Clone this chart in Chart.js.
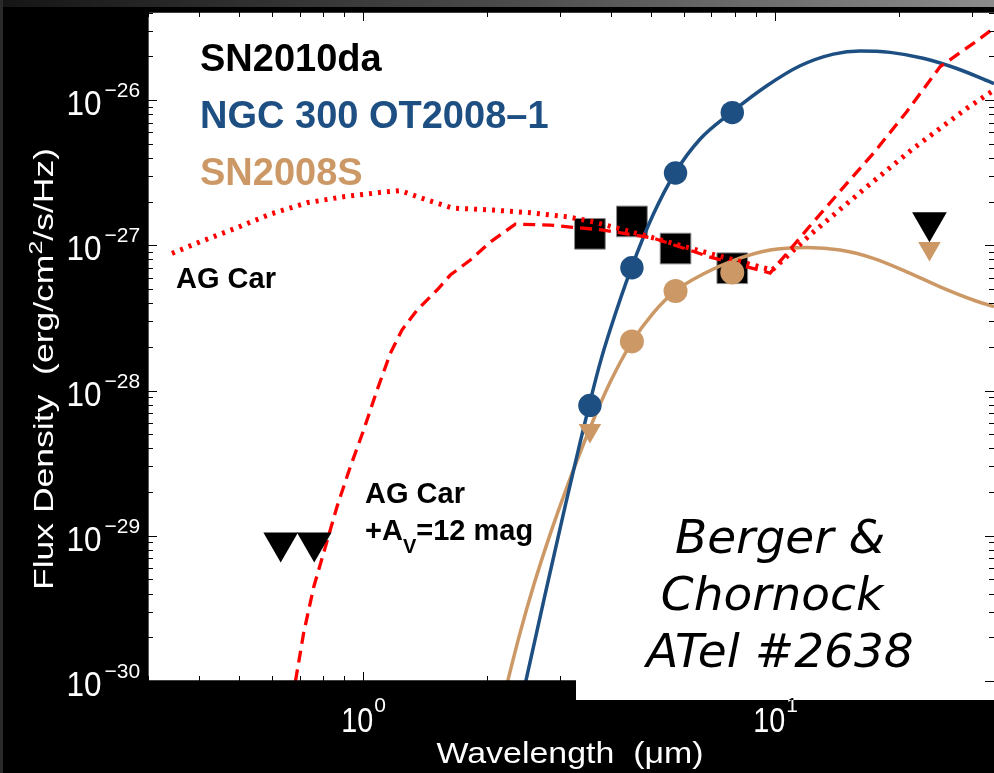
<!DOCTYPE html>
<html>
<head>
<meta charset="utf-8">
<script src="https://cdn.jsdelivr.net/npm/chart.js@4.4.0/dist/chart.umd.min.js"></script>
<style>
  html, body { margin: 0; padding: 0; background: #000; overflow: hidden; }
  canvas { display: block; }
</style>
</head>
<body>
<canvas id="miGrafico" width="994" height="773"></canvas>
<script>
// DATOS (longitud de onda en micras, flujo en erg/cm2/s/Hz)

// SN2010da: IRAC (cuadrados) y limites superiores (triangulos)
const sn2010daLambda = [3.55, 4.49, 5.73, 7.87];
const sn2010daFlujo = [1.20e-27, 1.46e-27, 9.5e-28, 6.95e-28];
const sn2010daLimLambda = [0.63, 0.76, 23.7];
const sn2010daLimFlujo = [9.0e-30, 9.0e-30, 1.44e-27];

// NGC 300 OT2008-1
const ngc300Lambda = [3.55, 4.49, 5.73, 7.87];
const ngc300Flujo = [7.9e-29, 7.0e-28, 3.15e-27, 8.2e-27];
const ngc300AjusteLambda = [2.424, 2.473, 2.766, 3.093, 3.363, 3.536, 3.760, 3.977, 4.473, 5.057,
  5.718, 6.577, 7.852, 9.548, 11.50, 13.85, 16.08, 19.02, 22.87, 27.61, 34.0];
const ngc300AjusteFlujo = [7.4e-31, 9.58e-31, 3.99e-30, 1.61e-29, 4.43e-29, 7.94e-29, 1.557e-28,
  2.63e-28, 6.93e-28, 1.628e-27, 3.16e-27, 5.39e-27, 8.27e-27, 1.254e-26, 1.722e-26, 2.073e-26,
  2.18e-26, 2.13e-26, 1.94e-26, 1.65e-26, 1.30e-26];

// SN2008S
const sn2008sLambda = [4.49, 5.73, 7.87];
const sn2008sFlujo = [2.18e-28, 4.84e-28, 6.5e-28];
const sn2008sLimLambda = [3.55, 23.7];
const sn2008sLimFlujo = [5.3e-29, 9.5e-28];
const sn2008sAjusteLambda = [2.184, 2.240, 2.405, 2.591, 2.844, 3.122, 3.536, 3.977, 4.473, 5.057,
  5.718, 6.687, 7.852, 9.725, 11.94, 14.38, 17.32, 20.87, 25.15, 30.29, 34.0];
const sn2008sAjusteFlujo = [7.4e-31, 9.89e-31, 2.17e-30, 4.54e-30, 1.031e-29, 2.166e-29, 5.35e-29,
  1.144e-28, 2.123e-28, 3.417e-28, 4.84e-28, 6.34e-28, 7.79e-28, 9.27e-28, 9.65e-28, 9.27e-28,
  8.13e-28, 6.57e-28, 5.18e-28, 4.20e-28, 3.78e-28];

// AG Car (punteado) y AG Car + Av=12 mag (discontinuo)
const agCarLambda = [0.343, 0.402, 0.484, 0.595, 0.730, 0.894, 1.118, 1.230, 1.430, 1.644, 2.068,
  2.543, 3.127, 3.617, 4.781, 6.687, 9.83, 12.28, 16.70, 21.66, 29.20, 34.0];
const agCarFlujo = [8.80e-28, 1.058e-27, 1.294e-27, 1.641e-27, 1.963e-27, 2.159e-27, 2.326e-27,
  2.375e-27, 2.049e-27, 1.805e-27, 1.748e-27, 1.675e-27, 1.572e-27, 1.452e-27, 1.177e-27,
  9.03e-28, 6.75e-28, 1.209e-27, 2.53e-27, 4.65e-27, 8.77e-27, 1.172e-26];
const agCarExtLambda = [0.673, 0.684, 0.716, 0.758, 0.809, 0.863, 0.930, 1.002, 1.080, 1.163,
  1.241, 1.350, 1.510, 1.626, 1.819, 2.034, 2.339, 2.844, 3.181, 3.824, 5.057, 6.953, 9.725,
  12.03, 14.38, 17.32, 20.87, 25.15, 30.29, 34.0];
const agCarExtFlujo = [7.4e-31, 9.9e-31, 2.13e-30, 4.46e-30, 8.41e-30, 1.585e-29, 2.99e-29,
  5.35e-29, 1.008e-28, 1.80e-28, 2.61e-28, 3.58e-28, 4.92e-28, 6.24e-28, 7.92e-28, 1.053e-27,
  1.400e-27, 1.378e-27, 1.336e-27, 1.274e-27, 1.122e-27, 8.30e-28, 6.44e-28, 1.315e-27,
  2.36e-27, 4.30e-27, 8.31e-27, 1.696e-26, 2.457e-26, 3.13e-26];

// EJES
const ticksX = [1, 10];
const etiquetasX = ['0', '1'];
const ticksY = [1e-30, 1e-29, 1e-28, 1e-27, 1e-26];
const etiquetasY = ['\u221230', '\u221229', '\u221228', '\u221227', '\u221226'];

const AZUL = '#1d4f82';
const MARRON = '#cc9966';
const ROJO = '#ff0000';

const CAJA = { x: 576, y: 490, w: 418, h: 210 }; // caja blanca de la anotacion

const puntos = (xs, ys) => xs.map((x, i) => ({ x: x, y: ys[i] }));

// texto en varias partes (superindices), ajustado a un ancho
function textoPartes(c, partes, x, y, ancho, rot, color, align) {
  c.save();
  c.translate(x, y);
  if (rot) c.rotate(rot);
  let total = 0;
  partes.forEach(p => { c.font = p.f; p.w = c.measureText(p.t).width; total += p.w; });
  const k = ancho ? ancho / total : 1;
  c.scale(k, 1);
  let cx = align === 'left' ? 0 : (align === 'right' ? -total : -total / 2);
  c.fillStyle = color;
  c.textBaseline = 'alphabetic';
  c.textAlign = 'left';
  partes.forEach(p => { c.font = p.f; c.fillText(p.t, cx, p.dy || 0); cx += p.w; });
  c.restore();
}

const fondo = {
  id: 'fondo',
  beforeDraw(chart) {
    const c = chart.ctx, a = chart.chartArea;
    c.save();
    c.fillStyle = '#000';
    c.fillRect(0, 0, chart.width, chart.height);
    const g = c.createLinearGradient(0, 0, chart.width, 0);
    g.addColorStop(0, '#151515');
    g.addColorStop(0.5, '#4a4a4a');
    g.addColorStop(1, '#8c8c8c');
    c.fillStyle = g;
    c.fillRect(0, 0, chart.width, 7);
    c.fillStyle = '#2a2a2a';
    c.fillRect(0, 0, 3, chart.height);
    c.fillStyle = '#fff';
    c.fillRect(a.left, a.top, a.right - a.left, a.bottom - a.top);
    c.restore();
  }
};

const ejes = {
  id: 'ejes',
  afterDatasetsDraw(chart) {
    const c = chart.ctx, a = chart.chartArea;
    const sx = chart.scales.x, sy = chart.scales.y;
    c.save();
    c.strokeStyle = '#000';
    c.lineWidth = 1.3;
    c.beginPath();
    c.moveTo(a.left, a.bottom); c.lineTo(a.left, a.top); c.lineTo(a.right, a.top);
    c.moveTo(a.left, a.bottom); c.lineTo(a.right, a.bottom);
    c.stroke();

    // marcas hacia dentro, estilo MATLAB
    c.lineWidth = 1;
    c.beginPath();
    for (let d = -1; d <= 1; d++) {
      for (let m = 1; m <= 9; m++) {
        const v = m * Math.pow(10, d);
        if (v < sx.min || v > sx.max) continue;
        const px = Math.round(sx.getPixelForValue(v)) + 0.5;
        const L = m === 1 ? 9 : 5;
        c.moveTo(px, a.top); c.lineTo(px, a.top + L);
        c.moveTo(px, a.bottom); c.lineTo(px, a.bottom - L);
      }
    }
    for (let d = -30; d <= -26; d++) {
      for (let m = 1; m <= 9; m++) {
        const v = m * Math.pow(10, d);
        if (v < sy.min || v > sy.max) continue;
        const py = Math.round(sy.getPixelForValue(v)) + 0.5;
        c.moveTo(a.left, py); c.lineTo(a.left + (m === 1 ? 9 : 5), py);
      }
    }
    c.stroke();

    // caja blanca de la anotacion (tapa el eje inferior a la derecha)
    c.fillStyle = '#fff';
    c.fillRect(CAJA.x, CAJA.y, CAJA.w, CAJA.h);

    // marcas del eje derecho (por encima de la caja)
    c.beginPath();
    for (let d = -30; d <= -26; d++) {
      for (let m = 1; m <= 9; m++) {
        const v = m * Math.pow(10, d);
        if (v < sy.min || v > sy.max) continue;
        const py = Math.round(sy.getPixelForValue(v)) + 0.5;
        c.moveTo(a.right, py); c.lineTo(a.right - (m === 1 ? 9 : 5), py);
      }
    }
    c.stroke();

    // etiquetas de los ejes (blancas sobre fondo negro)
    ticksY.forEach((v, i) => {
      const py = sy.getPixelForValue(v);
      textoPartes(c, [{ t: '10', f: '35px "Liberation Sans"' }], 101.5, py + 15, 35, 0, '#fff', 'right');
      textoPartes(c, [{ t: etiquetasY[i], f: '21px "Liberation Sans"' }], 104.5, py - 3, 0, 0, '#fff', 'left');
    });
    ticksX.forEach((v, i) => {
      const px = sx.getPixelForValue(v);
      textoPartes(c, [{ t: '10', f: '35px "Liberation Sans"' }], px + 10, 732, 32, 0, '#fff', 'right');
      textoPartes(c, [{ t: etiquetasX[i], f: '21px "Liberation Sans"' }], px + 11, 712, 0, 0, '#fff', 'left');
      // la parte que cae dentro de la caja se ve negra
      c.save();
      c.beginPath();
      c.rect(CAJA.x, CAJA.y, CAJA.w, CAJA.h);
      c.clip();
      textoPartes(c, [{ t: etiquetasX[i], f: '21px "Liberation Sans"' }], px + 11, 712, 0, 0, '#000', 'left');
      c.restore();
    });

    textoPartes(c, [
      { t: 'Flux Density  (erg/cm', f: '27px "Liberation Sans"' },
      { t: '2', f: '19px "Liberation Sans"', dy: -11 },
      { t: '/s/Hz)', f: '27px "Liberation Sans"' }
    ], 53, 369, 442, -Math.PI / 2, '#fff');
    textoPartes(c, [{ t: 'Wavelength  (\u03bcm)', f: '30px "Liberation Sans"' }], 570, 763, 267, 0, '#fff');

    // leyenda como texto
    const negrita = 'bold 38px "Liberation Sans"';
    textoPartes(c, [{ t: 'SN2010da', f: negrita }], 200, 71, 0, 0, '#000', 'left');
    textoPartes(c, [{ t: 'NGC 300 OT2008\u20131', f: negrita }], 200, 128, 0, 0, AZUL, 'left');
    textoPartes(c, [{ t: 'SN2008S', f: negrita }], 200, 185, 0, 0, MARRON, 'left');

    const peq = 'bold 29px "Liberation Sans"';
    textoPartes(c, [{ t: 'AG Car', f: peq }], 176, 288, 0, 0, '#000', 'left');
    textoPartes(c, [{ t: 'AG Car', f: peq }], 365, 503, 0, 0, '#000', 'left');
    textoPartes(c, [
      { t: '+A', f: peq },
      { t: 'V', f: 'bold 20px "Liberation Sans"', dy: 13 },
      { t: '=12 mag', f: peq }
    ], 365, 540, 0, 0, '#000', 'left');

    const cursiva = 'italic 47px "DejaVu Sans"';
    textoPartes(c, [{ t: 'Berger &', f: cursiva }], 780, 553, 0, 0, '#000');
    textoPartes(c, [{ t: 'Chornock', f: cursiva }], 772, 610, 0, 0, '#000');
    textoPartes(c, [{ t: 'ATel #2638', f: cursiva }], 780, 667, 0, 0, '#000');
    c.restore();
  }
};

const ctx = document.getElementById('miGrafico').getContext('2d');
const miGrafico = new Chart(ctx, {
  type: 'scatter',
  data: {
    datasets: [
      { // cuadrados SN2010da
        data: puntos(sn2010daLambda, sn2010daFlujo),
        pointStyle: 'rect', pointRadius: 21.7,
        backgroundColor: '#000', borderColor: '#8a8a8a', borderWidth: 1,
        order: 9
      },
      { // ajuste SN2008S
        data: puntos(sn2008sAjusteLambda, sn2008sAjusteFlujo),
        showLine: true, pointRadius: 0, borderColor: MARRON, borderWidth: 3.5,
        cubicInterpolationMode: 'monotone', fill: false, order: 8
      },
      { // ajuste NGC 300
        data: puntos(ngc300AjusteLambda, ngc300AjusteFlujo),
        showLine: true, pointRadius: 0, borderColor: AZUL, borderWidth: 3.5,
        cubicInterpolationMode: 'monotone', fill: false, order: 7
      },
      { // AG Car
        data: puntos(agCarLambda, agCarFlujo),
        showLine: true, pointRadius: 0, borderColor: ROJO, borderWidth: 5,
        borderDash: [3, 6], borderCapStyle: 'butt', tension: 0, fill: false, order: 6
      },
      { // AG Car + Av = 12
        data: puntos(agCarExtLambda, agCarExtFlujo),
        showLine: true, pointRadius: 0, borderColor: ROJO, borderWidth: 3.3,
        borderDash: [12, 7], borderCapStyle: 'butt', tension: 0, fill: false, order: 5
      },
      { // limites SN2010da
        data: puntos(sn2010daLimLambda, sn2010daLimFlujo),
        pointStyle: 'triangle', pointRotation: 180, pointRadius: 20,
        backgroundColor: '#000', borderColor: '#000', borderWidth: 0, order: 4
      },
      { // limites SN2008S
        data: puntos(sn2008sLimLambda, sn2008sLimFlujo),
        pointStyle: 'triangle', pointRotation: 180, pointRadius: 13,
        backgroundColor: MARRON, borderColor: MARRON, borderWidth: 0, order: 3
      },
      { // NGC 300
        data: puntos(ngc300Lambda, ngc300Flujo),
        pointStyle: 'circle', pointRadius: 11.7,
        backgroundColor: AZUL, borderColor: AZUL, borderWidth: 0, order: 2
      },
      { // SN2008S
        data: puntos(sn2008sLambda, sn2008sFlujo),
        pointStyle: 'circle', pointRadius: 12,
        backgroundColor: MARRON, borderColor: MARRON, borderWidth: 0, order: 1
      }
    ]
  },
  options: {
    responsive: false,
    animation: false,
    events: [],
    layout: { autoPadding: false, padding: { left: 148, top: 12, right: 0, bottom: 92 } },
    plugins: { legend: { display: false }, tooltip: { enabled: false } },
    scales: {
      x: { type: 'logarithmic', min: 0.3, max: 34, display: false },
      y: { type: 'logarithmic', min: 1e-30, max: 4.04e-26, display: false }
    }
  },
  plugins: [fondo, ejes]
});
</script>
</body>
</html>
